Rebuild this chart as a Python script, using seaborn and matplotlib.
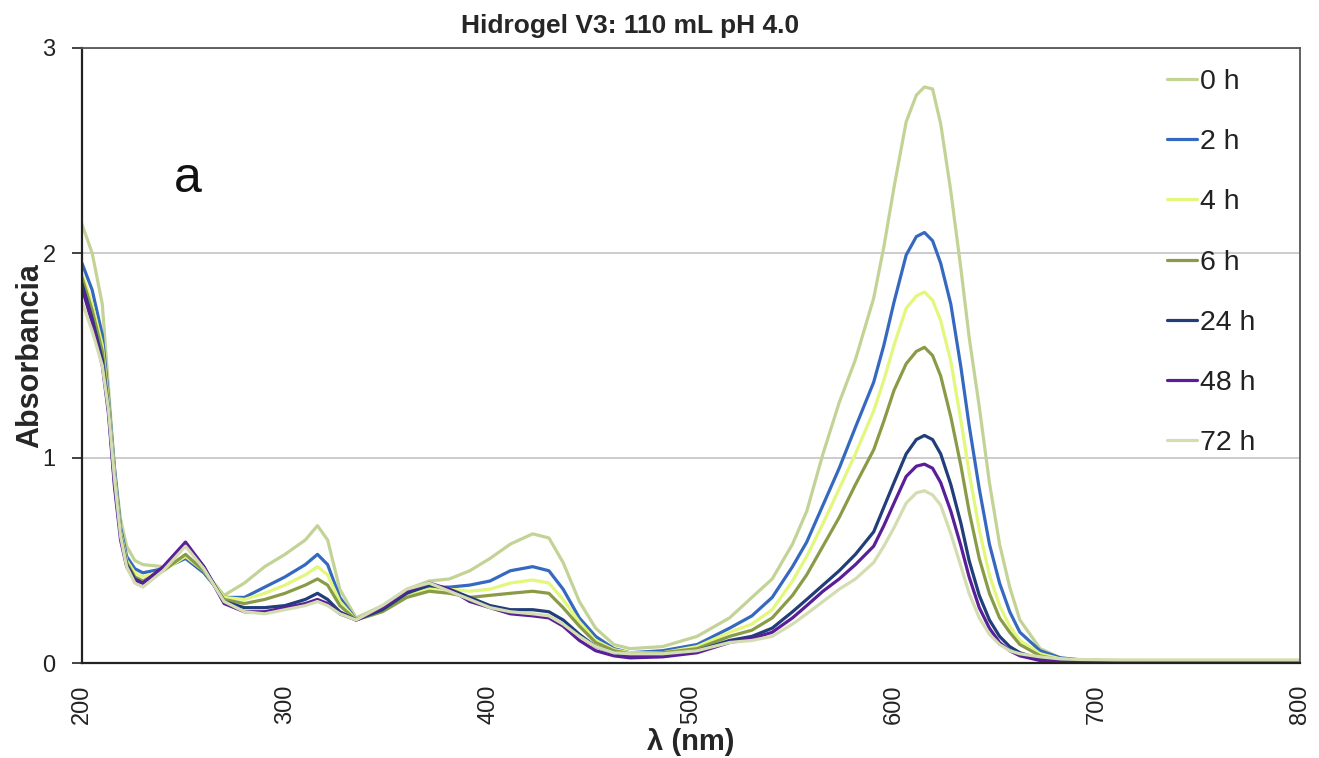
import numpy as np
import pandas as pd
import matplotlib
matplotlib.use("Agg")
import matplotlib.pyplot as plt
import seaborn as sns

wavelength = [200, 205, 210, 213, 216, 219, 222, 226, 230, 240, 251, 260, 270, 280, 290, 300,
              310, 316, 321, 327, 335, 348, 360, 371, 381, 391, 401, 411, 422, 430, 437, 445,
              453, 462, 470, 486, 503, 519, 530, 540, 550, 557, 565, 573, 581, 590, 595, 600,
              606, 611, 615, 619, 623, 628, 633, 637, 642, 647, 652, 657, 662, 672, 682, 692,
              710, 800]

abs_0h = [2.14, 2.00, 1.75, 1.35, 0.95, 0.70, 0.57, 0.50, 0.48, 0.47, 0.52, 0.45, 0.33, 0.39, 0.47, 0.53,
          0.60, 0.67, 0.60, 0.36, 0.22, 0.28, 0.36, 0.40, 0.41, 0.45, 0.51, 0.58, 0.63, 0.61, 0.49, 0.30,
          0.17, 0.09, 0.07, 0.08, 0.13, 0.22, 0.32, 0.41, 0.58, 0.74, 1.02, 1.27, 1.48, 1.78, 2.03, 2.32,
          2.64, 2.77, 2.81, 2.80, 2.63, 2.30, 1.92, 1.59, 1.25, 0.88, 0.58, 0.37, 0.21, 0.07, 0.025, 0.015,
          0.012, 0.01]
abs_2h = [1.95, 1.82, 1.60, 1.30, 0.95, 0.66, 0.52, 0.46, 0.44, 0.46, 0.51, 0.44, 0.32, 0.32, 0.37, 0.42,
          0.48, 0.53, 0.48, 0.32, 0.21, 0.26, 0.34, 0.37, 0.37, 0.38, 0.40, 0.45, 0.47, 0.45, 0.36, 0.22,
          0.13, 0.07, 0.05, 0.06, 0.09, 0.17, 0.23, 0.32, 0.47, 0.59, 0.77, 0.95, 1.15, 1.37, 1.55, 1.76,
          1.99, 2.08, 2.10, 2.06, 1.95, 1.75, 1.44, 1.16, 0.85, 0.58, 0.39, 0.25, 0.15, 0.06, 0.025, 0.015,
          0.01, 0.01]
abs_4h = [1.90, 1.75, 1.55, 1.28, 0.92, 0.64, 0.50, 0.44, 0.42, 0.45, 0.52, 0.45, 0.32, 0.31, 0.34, 0.38,
          0.43, 0.47, 0.43, 0.30, 0.21, 0.26, 0.33, 0.36, 0.36, 0.35, 0.36, 0.39, 0.405, 0.39, 0.31, 0.20,
          0.11, 0.065, 0.05, 0.05, 0.08, 0.15, 0.19, 0.26, 0.40, 0.52, 0.68, 0.85, 1.02, 1.23, 1.38, 1.55,
          1.73, 1.79, 1.81, 1.77, 1.67, 1.47, 1.18, 0.93, 0.65, 0.43, 0.28, 0.18, 0.11, 0.045, 0.02, 0.012,
          0.01, 0.008]
abs_6h = [1.88, 1.72, 1.52, 1.26, 0.90, 0.63, 0.49, 0.42, 0.40, 0.45, 0.53, 0.45, 0.31, 0.29, 0.31, 0.34,
          0.38, 0.41, 0.38, 0.28, 0.21, 0.25, 0.32, 0.35, 0.34, 0.32, 0.33, 0.34, 0.35, 0.34, 0.27, 0.18,
          0.10, 0.06, 0.045, 0.05, 0.07, 0.13, 0.16, 0.22, 0.33, 0.43, 0.57, 0.71, 0.87, 1.04, 1.18, 1.33,
          1.46, 1.52, 1.54, 1.50, 1.40, 1.20, 0.96, 0.74, 0.51, 0.34, 0.22, 0.15, 0.09, 0.035, 0.015, 0.01,
          0.008, 0.005]
abs_24h = [1.85, 1.68, 1.48, 1.24, 0.88, 0.62, 0.48, 0.41, 0.39, 0.46, 0.58, 0.47, 0.30, 0.27, 0.27, 0.28,
           0.31, 0.34, 0.31, 0.25, 0.21, 0.26, 0.34, 0.38, 0.36, 0.32, 0.28, 0.26, 0.26, 0.25, 0.21, 0.14,
           0.08, 0.05, 0.035, 0.04, 0.06, 0.11, 0.13, 0.17, 0.25, 0.31, 0.38, 0.45, 0.53, 0.64, 0.76, 0.88,
           1.02, 1.09, 1.11, 1.09, 1.02, 0.87, 0.68, 0.50, 0.33, 0.21, 0.13, 0.08, 0.05, 0.02, 0.01, 0.007,
           0.005, 0.003]
abs_48h = [1.83, 1.66, 1.45, 1.22, 0.86, 0.60, 0.47, 0.40, 0.39, 0.47, 0.59, 0.47, 0.29, 0.25, 0.25, 0.27,
           0.29, 0.31, 0.29, 0.24, 0.21, 0.27, 0.35, 0.39, 0.36, 0.30, 0.27, 0.24, 0.23, 0.22, 0.18, 0.11,
           0.06, 0.035, 0.025, 0.03, 0.05, 0.10, 0.12, 0.15, 0.22, 0.28, 0.35, 0.41, 0.48, 0.57, 0.67, 0.78,
           0.91, 0.96, 0.97, 0.95, 0.88, 0.74, 0.57, 0.42, 0.27, 0.17, 0.10, 0.06, 0.035, 0.012, 0.005, 0.003,
           0.002, 0.002]
abs_72h = [1.76, 1.62, 1.45, 1.24, 0.90, 0.62, 0.47, 0.39, 0.37, 0.45, 0.57, 0.46, 0.30, 0.25, 0.24, 0.26,
           0.28, 0.30, 0.28, 0.24, 0.21, 0.28, 0.36, 0.39, 0.35, 0.31, 0.27, 0.25, 0.24, 0.23, 0.19, 0.13,
           0.08, 0.05, 0.045, 0.045, 0.06, 0.10, 0.11, 0.13, 0.19, 0.24, 0.30, 0.36, 0.41, 0.49, 0.57, 0.66,
           0.78, 0.83, 0.84, 0.82, 0.77, 0.63, 0.47, 0.34, 0.22, 0.14, 0.09, 0.06, 0.045, 0.03, 0.02, 0.017,
           0.015, 0.015]

series_labels = ["0 h", "2 h", "4 h", "6 h", "24 h", "48 h", "72 h"]
series_values = [abs_0h, abs_2h, abs_4h, abs_6h, abs_24h, abs_48h, abs_72h]
series_colors = ["#c3d396", "#3569c0", "#e2f77c", "#8a9b48", "#213e7a", "#5a1f98", "#d3ddb1"]

frames = []
for lab, vals in zip(series_labels, series_values):
    frames.append(pd.DataFrame({"wl": wavelength, "abs": vals, "serie": lab}))
df = pd.concat(frames, ignore_index=True)

sns.set_style("white")
plt.rcParams["font.family"] = ["Liberation Sans", "DejaVu Sans"]

fig = plt.figure(figsize=(13.19, 7.58), dpi=100)
ax = fig.add_axes([82 / 1319, 1 - 663 / 758, (1300 - 82) / 1319, (663 - 48) / 758])

palette = dict(zip(series_labels, series_colors))
sns.lineplot(data=df, x="wl", y="abs", hue="serie", hue_order=series_labels,
             palette=palette, linewidth=2.3, ax=ax, sort=False, estimator=None)

ax.set_xlim(200, 800)
ax.set_ylim(0, 3)
ax.set_xticks([200, 300, 400, 500, 600, 700, 800])
ax.set_yticks([0, 1, 2, 3])
ax.yaxis.grid(True, color="#c4c4c4", linewidth=1.2)
ax.xaxis.grid(False)
ax.set_axisbelow(True)

for side in ["left", "bottom"]:
    ax.spines[side].set_color("#222222")
    ax.spines[side].set_linewidth(1.6)
for side in ["top", "right"]:
    ax.spines[side].set_color("#555555")
    ax.spines[side].set_linewidth(1.3)

ax.tick_params(axis="y", which="major", left=True, length=7, width=1.2, color="#222222",
               labelsize=17, pad=12, labelcolor="#222222")
ax.tick_params(axis="x", which="major", bottom=False, labelsize=17, pad=12,
               labelrotation=90, labelcolor="#222222")

ax.set_xlabel("λ (nm)", fontsize=21, fontweight="bold")
ax.set_ylabel("Absorbancia", fontsize=22, fontweight="bold")
ax.xaxis.set_label_coords(0.5, (663 - 742) / 615, transform=ax.transAxes)
ax.xaxis.label.set_va("center")
ax.yaxis.set_label_coords((30 - 82) / 1218, 0.5, transform=ax.transAxes)
ax.yaxis.label.set_va("center")
ax.set_title("Hidrogel V3: 110 mL pH 4.0", fontsize=19, fontweight="bold", pad=11)
ax.title.set_x((630 - 82) / 1218)

ax.text(252, 2.36, "a", fontsize=36, ha="center", va="center", color="#111111")

handles, labels = ax.get_legend_handles_labels()
leg = ax.legend(handles, labels, loc="upper left", bbox_to_anchor=(1167 / 1319, 1 - 69 / 758),
                bbox_transform=fig.transFigure, frameon=False, fontsize=20.5,
                handlelength=1.05, handletextpad=0.1, labelspacing=1.2, borderpad=0,
                borderaxespad=0)
for t in leg.get_texts():
    t.set_color("#222222")

fig.savefig("out.png", dpi=100)
